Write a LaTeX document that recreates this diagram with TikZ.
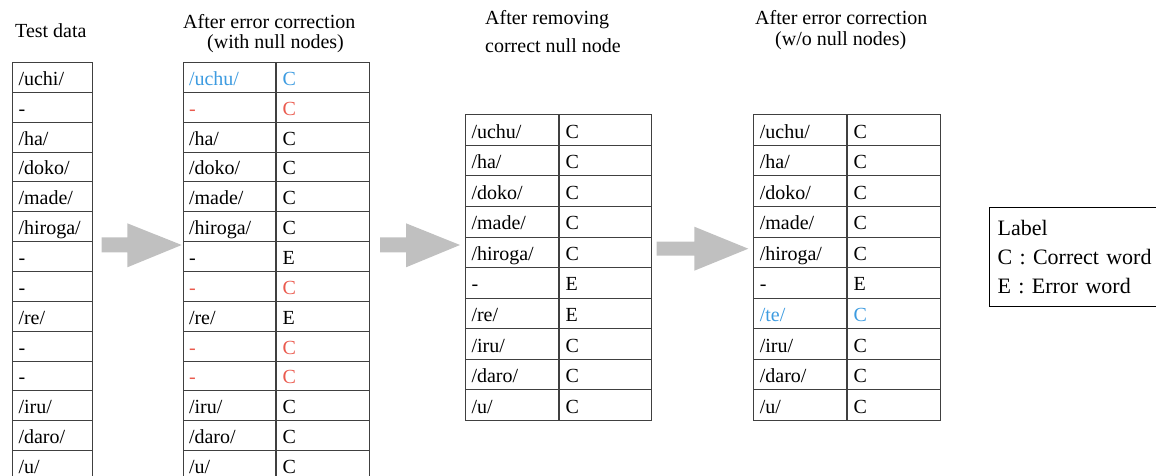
\documentclass[tikz,border=0pt]{standalone}
\usepackage{fontspec}
\setmainfont{Liberation Serif}
\newfontfamily\timesfont{Liberation Serif}
\usepackage{xcolor}
\usepackage{tikz}
\usetikzlibrary{
	arrows.meta,
	calc,
	positioning
}
\definecolor{gridgray}{HTML}{404040}
\definecolor{arrowgray}{HTML}{C0C0C0}
\definecolor{fixblue}{HTML}{3D9BE0}
\definecolor{nullred}{HTML}{EA5A4E}

\tikzset{
	cell/.style={draw=gridgray, line width=1pt, anchor=north west, inner xsep=6pt, inner ysep=0pt,
		text height=18pt, text depth=2pt, align=left, font=\timesfont\fontsize{20}{24}\selectfont},
	title/.style={anchor=base west, inner sep=0pt, font=\timesfont\fontsize{20}{24}\selectfont},
	bigarrow/.style={fill=arrowgray, draw=none},
	legendbox/.style={draw=black, line width=1.2pt, anchor=north west, align=left, inner xsep=8pt,
		minimum width=166pt, minimum height=99pt, text width=156pt,
		font=\timesfont\fontsize{22}{28.8}\selectfont}
}

\begin{document}
\begin{tikzpicture}[x=1pt, y=-1pt]
		\clip (0,0) rectangle (1156,476);
		% titles
		\node[title] (ttest) at (15,38) {Test data};
		\node[title] (tcor) at (183,29) {After error correction};
		\node[title] (tcorb) at (207,49) {(with null nodes)};
		\node[title] (trem) at (485,25) {After removing};
		\node[title] (tremb) at (485,53) {correct null node};
		\node[title] (tfin) at (755,25) {After error correction};
		\node[title] (tfinb) at (775,46) {(w/o null nodes)};
		% test data
		\foreach \w [count=\i] in {/uchi/,-,/ha/,/doko/,/made/,/hiroga/,-,-,/re/,-,-,/iru/,/daro/,/u/}
			\node[cell, text width=68pt, minimum height=29.85pt] (td\i) at (12,{62+(\i-1)*29.85}) {\w};
		% after error correction, with null nodes
		\foreach \w/\c/\col [count=\i] in {{/uchu/}/C/fixblue,-/C/nullred,{/ha/}/C/black,{/doko/}/C/black,
				{/made/}/C/black,{/hiroga/}/C/black,-/E/black,-/C/nullred,{/re/}/E/black,-/C/nullred,
				-/C/nullred,{/iru/}/C/black,{/daro/}/C/black,{/u/}/C/black}{
			\node[cell, text width=80.5pt, minimum height=29.85pt, text=\col] (cw\i) at (182.5,{62+(\i-1)*29.85}) {\w};
			\node[cell, text width=80.5pt, minimum height=29.85pt, text=\col] (cl\i) at (cw\i.north east) {\c};
		}
		% after removing correct null node
		\foreach \w/\c [count=\i] in {{/uchu/}/C,{/ha/}/C,{/doko/}/C,{/made/}/C,{/hiroga/}/C,
				-/E,{/re/}/E,{/iru/}/C,{/daro/}/C,{/u/}/C}{
			\node[cell, text width=81pt, minimum height=30.57pt] (rw\i) at (465,{114.3+(\i-1)*30.57}) {\w};
			\node[cell, text width=80pt, minimum height=30.57pt] (rl\i) at (rw\i.north east) {\c};
		}
		% after error correction, w/o null nodes
		\foreach \w/\c/\col [count=\i] in {{/uchu/}/C/black,{/ha/}/C/black,{/doko/}/C/black,{/made/}/C/black,
				{/hiroga/}/C/black,-/E/black,{/te/}/C/fixblue,{/iru/}/C/black,{/daro/}/C/black,{/u/}/C/black}{
			\node[cell, text width=80.7pt, minimum height=30.57pt, text=\col] (fw\i) at (753.3,{114.3+(\i-1)*30.57}) {\w};
			\node[cell, text width=80.7pt, minimum height=30.57pt, text=\col] (fl\i) at (fw\i.north east) {\c};
		}
		% block arrows
		\fill[bigarrow] (101.7,237.3) -- (127.3,237.3) -- (127.3,223.3) -- (181.7,245)
			-- (127.3,267.3) -- (127.3,252.3) -- (101.7,252.3) -- cycle;
		\fill[bigarrow] (380,237.3) -- (406,237.3) -- (406,223.3) -- (460,245)
			-- (406,267.3) -- (406,252.3) -- (380,252.3) -- cycle;
		\fill[bigarrow] (656.7,241.7) -- (694.3,241.7) -- (694.3,226.7) -- (748.3,248.7)
			-- (694.3,270.7) -- (694.3,255.7) -- (656.7,255.7) -- cycle;
		% legend
		\node[legendbox] (legend) at (989,207) {Label\\C : Correct word\\E : Error word};
	\end{tikzpicture}
\end{document}
